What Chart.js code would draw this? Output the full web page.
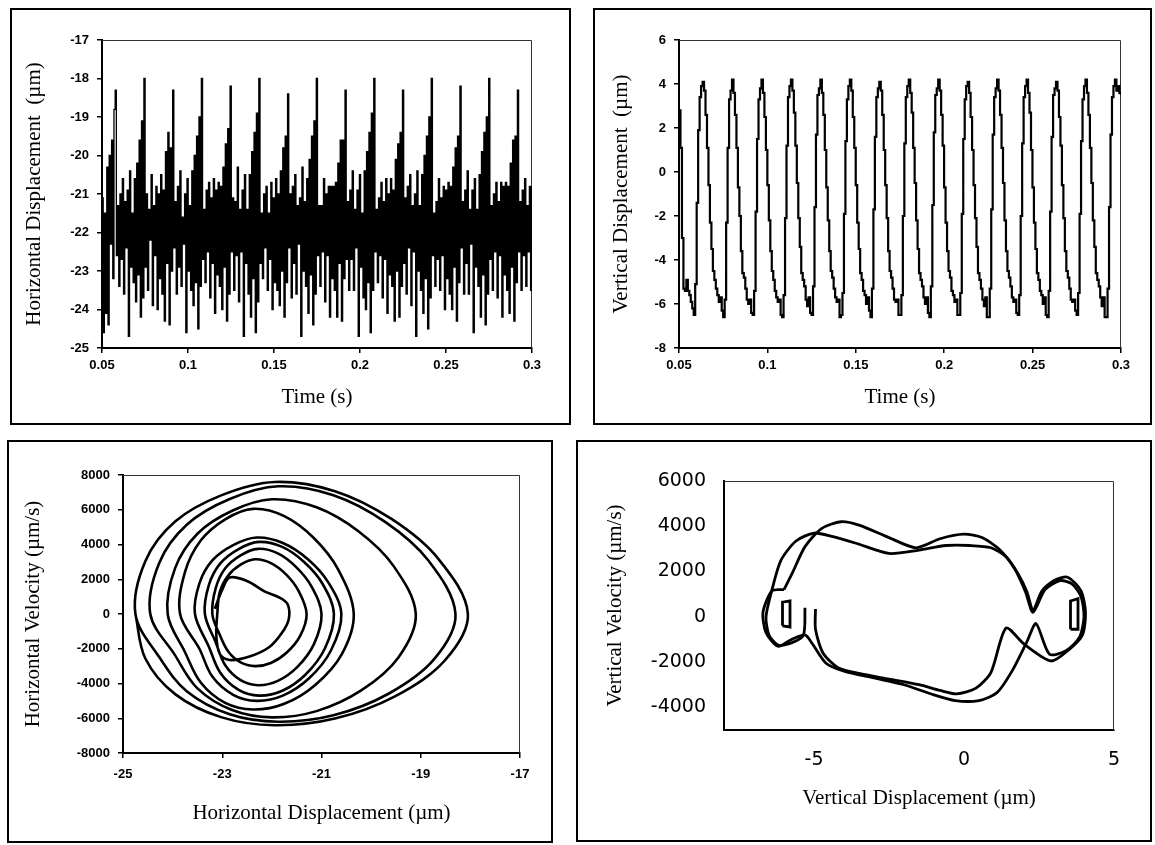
<!DOCTYPE html>
<html>
<head>
<meta charset="utf-8">
<script src="https://cdn.jsdelivr.net/npm/chart.js@4/dist/chart.umd.min.js"></script>
<style>
  body { margin: 0; background: #fff; }
  .panel { position: absolute; border: 2px solid #000; box-sizing: border-box; background: #fff; }
  .panel canvas { display: block; }
</style>
</head>
<body>
<div class="panel" style="left:10px;top:8px;width:561px;height:417px"><canvas id="hTime" width="557" height="413"></canvas></div>
<div class="panel" style="left:593px;top:8px;width:559px;height:417px"><canvas id="vTime" width="555" height="413"></canvas></div>
<div class="panel" style="left:7px;top:440px;width:546px;height:403px"><canvas id="hPhase" width="542" height="399"></canvas></div>
<div class="panel" style="left:576px;top:440px;width:576px;height:402px"><canvas id="vPhase" width="572" height="398"></canvas></div>
<script>
// horizontal displacement (um), one sample every hStep seconds from 0.05 s
const hStart = 0.05;
const hStep = 0.000696;
const hDisp = [
  -21.1, -24.6, -21.5, -24.1, -20.3, -24.4, -20.0, -22.3, -19.6, -23.2, -18.8, -18.3,
  -22.6, -21.3, -23.4, -21.0, -22.7, -20.6, -23.6, -21.2, -22.4, -20.9, -24.7, -20.4, -22.9, -21.5, -23.3, -20.6, -23.8, -20.2, -23.1, -19.6, -24.2, -19.1, -23.7, -18.0,
  -22.9, -21.0, -23.5, -21.4, -22.2, -20.5, -23.9, -21.3, -22.6, -20.8, -24.0, -21.0, -23.2, -20.5, -23.6, -20.9, -24.3, -19.9, -22.8, -19.4, -24.4, -19.8, -23.0, -18.3,
  -22.4, -21.2, -23.6, -20.8, -22.9, -20.4, -23.4, -21.6, -22.3, -21.0, -24.6, -20.6, -23.0, -21.3, -23.5, -20.4, -23.9, -20.0, -23.3, -19.5, -24.5, -19.0, -23.4, -18.0,
  -22.7, -21.4, -23.3, -20.9, -22.5, -20.7, -23.7, -21.1, -22.8, -20.6, -24.1, -20.9, -23.1, -20.7, -23.4, -20.8, -24.0, -20.3, -22.9, -19.7, -24.3, -19.3, -23.6, -18.2,
  -22.5, -21.1, -23.5, -21.2, -22.6, -20.3, -23.8, -21.4, -22.5, -20.9, -24.7, -20.5, -22.8, -21.4, -23.6, -20.5, -24.2, -19.9, -23.2, -19.4, -24.6, -18.9, -23.8, -18.0,
  -22.8, -21.5, -23.2, -21.0, -22.4, -20.8, -23.5, -21.5, -22.7, -20.7, -24.0, -21.1, -23.3, -20.6, -23.5, -21.0, -23.9, -20.4, -23.0, -19.8, -24.2, -19.5, -23.3, -18.4,
  -22.4, -21.0, -23.7, -20.8, -22.8, -20.5, -23.6, -21.3, -22.3, -21.1, -24.7, -20.3, -23.0, -21.2, -23.4, -20.6, -24.1, -20.1, -23.1, -19.5, -24.4, -19.1, -23.6, -18.0,
  -22.6, -21.3, -23.4, -21.3, -22.5, -20.6, -23.8, -21.0, -22.6, -20.8, -24.2, -20.8, -23.2, -20.8, -23.5, -20.7, -24.2, -20.2, -22.8, -19.6, -24.3, -19.6, -23.2, -18.3,
  -22.7, -21.2, -23.5, -20.9, -22.7, -20.4, -23.5, -21.4, -22.4, -20.9, -24.7, -20.5, -22.9, -21.5, -23.7, -20.4, -24.0, -19.9, -23.3, -19.4, -24.6, -18.9, -23.5, -18.0,
  -22.5, -21.4, -23.3, -21.1, -22.6, -20.7, -23.7, -21.2, -22.7, -20.6, -24.1, -21.0, -23.1, -20.6, -23.4, -20.9, -24.3, -20.1, -23.0, -19.7, -24.2, -19.4, -23.4, -18.3,
  -22.8, -21.1, -23.6, -20.8, -22.4, -20.5, -23.9, -21.3, -22.5, -21.0, -24.7, -20.4, -23.0, -21.3, -23.5, -20.5, -24.1, -20.0, -23.2, -19.5, -24.5, -19.0, -23.7, -18.0,
  -22.6, -21.5, -23.4, -21.2, -22.7, -20.6, -23.5, -21.1, -22.6, -20.8, -24.0, -20.9, -23.2, -20.7, -23.6, -20.8, -24.0, -20.3, -22.9, -19.8, -24.3, -19.5, -23.3, -18.2,
  -22.4, -21.2, -23.6, -20.9, -22.8, -20.4, -23.6, -21.4, -22.3, -20.9, -24.6, -20.6, -22.9, -21.4, -23.4, -20.5, -24.2, -19.9, -23.1, -19.4, -24.4, -19.0, -23.6, -18.0,
  -22.7, -21.3, -23.5, -21.0, -22.5, -20.7, -23.7, -21.2, -22.6, -20.7, -24.2, -20.8, -23.1, -20.7, -23.5, -20.8, -24.1, -20.2, -22.9, -19.6, -24.3, -19.5, -23.3, -18.3,
  -22.5, -21.2, -23.5, -20.9, -22.6, -20.6, -23.4, -21.3, -22.5, -20.8, -23.5, -20.8
];

// vertical displacement (um), one sample every vStep seconds from 0.05 s
const vStart = 0.05;
const vStep = 0.000833;
const vDisp = [
  2.8, 1.1, -3.0, -5.3, -5.4, -4.9, -5.4, -5.6, -5.9, -6.2,
  -6.5, -5.1, -1.4, 1.9, 3.4, 3.9, 4.1, 3.7, 2.6, 1.1, -0.6, -2.3, -3.5, -4.5, -4.9, -5.3, -5.6, -5.9, -5.7, -6.3,
  -6.6, -5.8, -2.3, 1.1, 3.3, 3.7, 4.2, 3.6, 2.6, 1.1, -0.7, -2.0, -3.6, -4.6, -4.8, -5.3, -5.8, -6.0, -5.8, -6.4,
  -6.5, -5.4, -1.8, 1.5, 3.3, 3.8, 4.2, 3.6, 2.5, 1.0, -0.6, -2.2, -3.6, -4.5, -4.9, -5.4, -5.7, -5.9, -5.8, -6.5,
  -6.6, -5.6, -2.1, 1.2, 3.4, 3.9, 4.2, 3.7, 2.7, 1.2, -0.5, -2.1, -3.4, -4.6, -4.9, -5.2, -5.8, -6.1, -5.7, -6.4,
  -6.5, -5.2, -1.6, 1.7, 3.5, 3.8, 4.2, 3.6, 2.6, 1.0, -0.7, -2.2, -3.6, -4.5, -4.8, -5.3, -5.7, -5.9, -5.8, -6.6,
  -6.5, -5.5, -1.9, 1.4, 3.3, 3.9, 4.2, 3.7, 2.5, 1.1, -0.6, -2.3, -3.5, -4.6, -4.9, -5.4, -5.6, -6.0, -5.7, -6.3,
  -6.6, -5.3, -1.7, 1.6, 3.4, 3.8, 4.1, 3.7, 2.6, 1.0, -0.6, -2.1, -3.6, -4.5, -4.8, -5.3, -5.8, -5.9, -5.8, -6.5,
  -6.5, -5.6, -2.0, 1.3, 3.4, 3.9, 4.2, 3.6, 2.7, 1.1, -0.5, -2.2, -3.5, -4.6, -4.9, -5.2, -5.7, -6.0, -5.7, -6.4,
  -6.6, -5.2, -1.5, 1.8, 3.5, 3.8, 4.2, 3.7, 2.6, 1.2, -0.7, -2.3, -3.6, -4.5, -4.8, -5.4, -5.6, -5.9, -5.8, -6.5,
  -6.5, -5.5, -1.9, 1.5, 3.3, 3.9, 4.1, 3.6, 2.5, 1.0, -0.6, -2.1, -3.4, -4.6, -4.9, -5.3, -5.8, -6.1, -5.7, -6.6,
  -6.6, -5.3, -1.7, 1.7, 3.4, 3.8, 4.2, 3.7, 2.6, 1.1, -0.5, -2.2, -3.6, -4.5, -4.8, -5.2, -5.7, -5.9, -5.8, -6.4,
  -6.5, -5.6, -2.0, 1.3, 3.4, 3.9, 4.2, 3.6, 2.7, 1.0, -0.7, -2.3, -3.5, -4.6, -4.9, -5.4, -5.6, -6.0, -5.7, -6.5,
  -6.6, -5.4, -1.8, 1.6, 3.5, 3.8, 4.1, 3.7, 2.5, 1.2, -0.6, -2.1, -3.6, -4.5, -4.8, -5.3, -5.8, -5.9, -5.8, -6.3,
  -6.5, -5.5, -1.9, 1.4, 3.3, 3.9, 4.2, 3.6, 2.6, 1.1, -0.5, -2.2, -3.4, -4.6, -4.9, -5.2, -5.7, -6.1, -5.7, -6.6,
  -6.6, -5.3, -1.6, 1.7, 3.4, 3.9, 4.2, 3.7, 3.9, 3.6, 3.5
];

// horizontal phase plane: displacement (um) against velocity (um/s)
const hPhaseDisp = [
  -23.15, -23.00, -22.85, -22.50, -22.15, -21.85, -21.68, -21.66, -21.80, -22.05, -22.45, -22.85, -23.05, -23.12,
  -23.10, -23.05, -22.88, -22.63, -22.34, -22.02, -21.71, -21.46, -21.30, -21.43, -21.70, -22.02, -22.34, -22.63, -22.88, -23.05,
  -23.20, -23.13, -22.94, -22.63, -22.28, -21.88, -21.51, -21.20, -21.00, -21.15, -21.48, -21.88, -22.28, -22.63, -22.94, -23.13,
  -23.35, -23.27, -23.04, -22.67, -22.26, -21.79, -21.35, -20.98, -20.75, -20.93, -21.32, -21.79, -22.26, -22.67, -23.04, -23.27,
  -23.55, -23.46, -23.20, -22.78, -22.31, -21.78, -21.28, -20.87, -20.60, -20.81, -21.25, -21.78, -22.31, -22.78, -23.20, -23.46,
  -23.85, -23.75, -23.43, -22.94, -22.38, -21.75, -21.15, -20.66, -20.35, -20.59, -21.12, -21.75, -22.38, -22.94, -23.43, -23.75,
  -24.10, -23.95, -23.50, -22.80, -22.00, -21.10, -20.25, -19.55, -19.10, -19.45, -20.20, -21.10, -22.00, -22.80, -23.50, -23.95,
  -24.45, -24.27, -23.71, -22.85, -21.87, -20.76, -19.71, -18.85, -18.30, -18.73, -19.65, -20.76, -21.87, -22.85, -23.71, -24.27,
  -24.75, -24.55, -23.95, -23.01, -21.94, -20.73, -19.59, -18.65, -18.05, -18.52, -19.52, -20.73, -21.94, -23.01, -23.95, -24.55, -24.75
];
const hPhaseVel = [
  300, 1400, 2100, 1900, 1300, 950, 550, -300, -1100, -1900, -2450, -2650, -2300, -1200,
  0, 1260, 2210, 2840, 3150, 2930, 2270, 1320, 0, -1260, -2220, -2820, -3000, -2790, -2160, -1200,
  0, 1500, 2630, 3380, 3750, 3490, 2700, 1580, 0, -1720, -3030, -3850, -4100, -3810, -2950, -1640,
  0, 1660, 2910, 3740, 4150, 3860, 2990, 1740, 0, -1970, -3480, -4420, -4700, -4370, -3380, -1880,
  0, 1760, 3080, 3960, 4400, 4090, 3170, 1850, 0, -2100, -3700, -4700, -5000, -4650, -3600, -2000,
  0, 2420, 4240, 5450, 6050, 5630, 4360, 2540, 0, -2310, -4070, -5170, -5500, -5120, -3960, -2200,
  0, 2640, 4620, 5940, 6600, 6140, 4750, 2770, 0, -2500, -4400, -5590, -5950, -5530, -4280, -2380,
  0, 2940, 5150, 6620, 7350, 6840, 5290, 3090, 0, -2600, -4590, -5830, -6200, -5770, -4460, -2480,
  0, 3040, 5320, 6840, 7600, 7070, 5470, 3190, 0, -2690, -4740, -6020, -6400, -5950, -4610, -2560, 0
];

// vertical phase plane: two passes round the orbit plus the small end loops
const vDispA = [
  -4.95, -4.95, -4.7, -4.2, -3.5, -2.5, -1.5, -0.8, -0.25, 0.4,
  0.9, 1.4, 2.0, 2.9, 3.5, 3.95, 4.05, 3.9, 3.45, 3.0,
  2.6, 2.3, 2.1, 1.8, 1.4, 0.9, 0.2, -0.6, -1.5, -2.5,
  -3.6, -4.4, -5.0, -5.6, -6.1, -6.4, -6.6, -6.5, -6.2, -5.75,
  -5.35, -5.3
];
const vVelA = [
  350, -550, -1600, -2250, -2500, -2750, -3000, -3250, -3400, -3150,
  -2450, -500, -1200, -1950, -1450, -800, 200, 1150, 1750, 1600,
  1150, 300, 1100, 1900, 2650, 3050, 3150, 3150, 2950, 2800,
  3250, 3550, 3700, 3350, 2500, 1200, 0, -800, -1250, -1150,
  -800, 400
];
const vDispB = [
  -6.0, -5.7, -5.3, -4.75, -4.1, -3.5, -2.5, -1.6, -0.8, 0.0,
  0.6, 1.2, 1.7, 2.05, 2.3, 2.7, 3.2, 3.6, 3.9, 4.0,
  3.85, 3.4, 2.85, 2.4, 2.1, 1.6, 1.1, 0.5, -0.3, -1.0,
  -2.0, -3.0, -4.0, -4.6, -5.05, -5.3, -5.75, -6.2, -6.6, -6.7,
  -6.4, -6.0
];
const vVelB = [
  1200, 2000, 3100, 3900, 4200, 4050, 3500, 3050, 3450, 3650,
  3500, 2950, 2100, 1100, 200, 1200, 1600, 1450, 900, 0,
  -900, -1500, -1650, -300, -1100, -2400, -3350, -3700, -3700, -3450,
  -3000, -2700, -2400, -2050, -1200, -800, -1000, -1300, -700, 200,
  1150, 1200
];
const vDispLeftLoop = [-6.05, -6.05, -5.8, -5.8, -6.05];
const vVelLeftLoop = [-400, 650, 700, -450, -400];
const vDispRightLoop = [3.55, 3.55, 3.8, 3.8, 3.55];
const vVelRightLoop = [-550, 700, 800, -550, -550];

const serif = "'Liberation Serif', 'Times New Roman', serif";
const tickFont = { family: "'Liberation Sans', Arial, sans-serif", size: 13, weight: 'bold' };
const plainFont = { family: "'DejaVu Sans', sans-serif", size: 19 };

Chart.defaults.color = '#000';
Chart.defaults.animation = false;

// thin top/right edge round the plot area
const framePlugin = {
  id: 'frame',
  beforeDatasetsDraw(chart) {
    const { ctx, chartArea: a } = chart;
    ctx.save();
    ctx.strokeStyle = '#333';
    ctx.lineWidth = 1;
    ctx.beginPath();
    ctx.moveTo(a.left, a.top + 0.5);
    ctx.lineTo(a.right - 0.5, a.top + 0.5);
    ctx.lineTo(a.right - 0.5, a.bottom);
    ctx.stroke();
    ctx.restore();
  }
};

function points(xs, ys) {
  return xs.map((x, i) => ({ x, y: ys[i] }));
}

function sampled(start, step, values) {
  return values.map((y, i) => ({ x: +(start + i * step).toFixed(5), y }));
}

function axis(o) {
  const horizontal = o.horizontal;
  const scale = {
    type: 'linear',
    min: o.min,
    max: o.max,
    afterFit: s => {
      if (horizontal) s.height = o.size; else s.width = o.size;
    },
    border: { display: true, color: '#000', width: 2 },
    grid: { drawOnChartArea: false, drawTicks: o.tick > 0, tickLength: o.tick || 0, color: '#000', lineWidth: 1.5 },
    ticks: {
      stepSize: o.step,
      padding: o.pad,
      font: o.font,
      color: '#000',
      autoSkip: false,
      maxRotation: 0,
      callback: v => String(+v.toFixed(2))
    },
    title: {
      display: true,
      text: o.title,
      color: '#000',
      font: { family: serif, size: 21 },
      padding: horizontal ? { top: 0, bottom: o.titlePad } : { top: o.titlePad, bottom: 0 }
    }
  };
  if (o.only) scale.afterBuildTicks = s => { s.ticks = o.only.map(v => ({ value: v })); };
  return scale;
}

function lineSet(data, width, extra) {
  return Object.assign({
    data,
    borderColor: '#000',
    borderWidth: width,
    pointRadius: 0,
    fill: false
  }, extra || {});
}

function makeChart(id, datasets, padding, xAxis, yAxis) {
  return new Chart(document.getElementById(id), {
    type: 'line',
    data: { datasets },
    options: {
      responsive: false,
      devicePixelRatio: 1,
      layout: { padding },
      plugins: { legend: { display: false }, tooltip: { enabled: false } },
      scales: { x: xAxis, y: yAxis }
    },
    plugins: [framePlugin]
  });
}

makeChart('hTime',
  [lineSet(sampled(hStart, hStep, hDisp), 1.3, { stepped: true })],
  { left: 0, top: 30, right: 37, bottom: 0 },
  axis({ horizontal: true, min: 0.05, max: 0.3, step: 0.05, size: 75, tick: 5, pad: 5, font: tickFont, title: 'Time (s)', titlePad: 13 }),
  axis({ min: -25, max: -17, step: 1, size: 90, tick: 5, pad: 8, font: tickFont, title: 'Horizontal Displacement  (\u00b5m)', titlePad: 10 })
);

makeChart('vTime',
  [lineSet(sampled(vStart, vStep, vDisp), 2.2, { stepped: true })],
  { left: 0, top: 30, right: 29, bottom: 0 },
  axis({ horizontal: true, min: 0.05, max: 0.3, step: 0.05, size: 75, tick: 5, pad: 5, font: tickFont, title: 'Time (s)', titlePad: 13 }),
  axis({ min: -8, max: 6, step: 2, size: 84, tick: 5, pad: 8, font: tickFont, title: 'Vertical Displacement  (\u00b5m)', titlePad: 14 })
);

makeChart('hPhase',
  [lineSet(points(hPhaseDisp, hPhaseVel), 2.6, { tension: 0.35 })],
  { left: 0, top: 33, right: 31, bottom: 0 },
  axis({ horizontal: true, min: -25, max: -17, step: 2, size: 88, tick: 5, pad: 9, font: tickFont, title: 'Horizontal Displacement (\u00b5m)', titlePad: 15 }),
  axis({ min: -8000, max: 8000, step: 2000, size: 114, tick: 5, pad: 8, font: tickFont, title: 'Horizontal Velocity (\u00b5m/s)', titlePad: 12 })
);

makeChart('vPhase',
  [
    lineSet(points(vDispA, vVelA), 2.8, { tension: 0.25 }),
    lineSet(points(vDispB, vVelB), 2.8, { tension: 0.25 }),
    lineSet(points(vDispLeftLoop, vVelLeftLoop), 2.8),
    lineSet(points(vDispRightLoop, vVelRightLoop), 2.8)
  ],
  { left: 0, top: 39, right: 36, bottom: 0 },
  axis({ horizontal: true, min: -8, max: 5, step: 5, size: 110, tick: 0, pad: 19, font: plainFont, only: [-5, 0, 5], title: 'Vertical Displacement (\u00b5m)', titlePad: 29 }),
  axis({ min: -5000, max: 6000, step: 2000, size: 146, tick: 0, pad: 18, font: plainFont, only: [-4000, -2000, 0, 2000, 4000, 6000], title: 'Vertical Velocity (\u00b5m/s)', titlePad: 25 })
);
</script>
</body>
</html>
